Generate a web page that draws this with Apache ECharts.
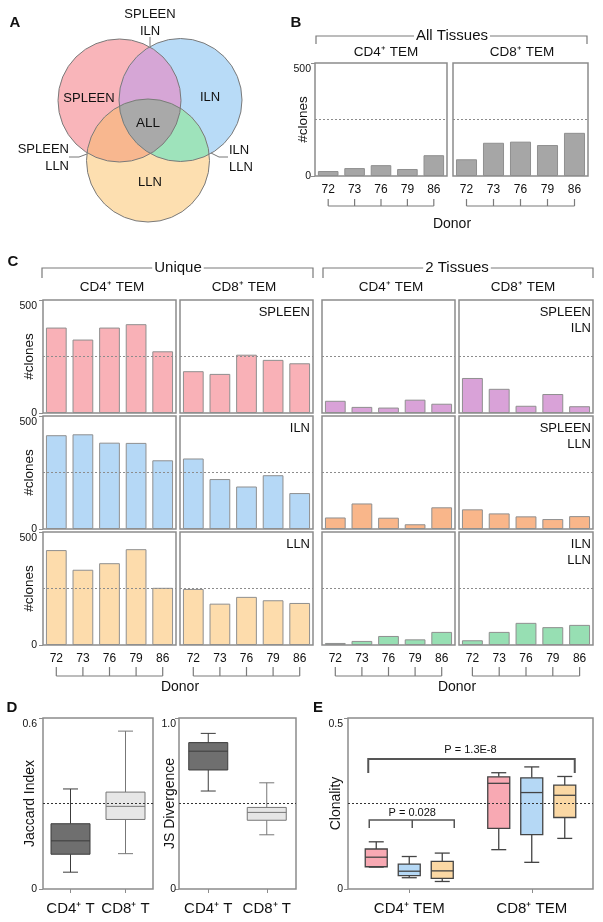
<!DOCTYPE html>
<html><head><meta charset="utf-8">
<script src="https://cdn.jsdelivr.net/npm/echarts@6/dist/echarts.min.js"></script>
<style>html,body{margin:0;padding:0;background:#fff}#c{width:603px;height:922px}</style>
</head><body><div id="c"></div>
<script>
// ---------- data ----------
const donors = ['72', '73', '76', '79', '86'];
// Panel B: all tissues
const allCD4 = [22, 35, 48, 31, 92];
const allCD8 = [74, 147, 152, 137, 191];
// Panel C: unique
const spleenCD4 = [378, 325, 378, 393, 273];
const spleenCD8 = [185, 173, 258, 235, 220];
const ilnCD4 = [415, 419, 382, 381, 304];
const ilnCD8 = [312, 221, 188, 238, 159];
const llnCD4 = [420, 333, 362, 424, 253];
const llnCD8 = [248, 183, 213, 198, 186];
// Panel C: two tissues
const spIlnCD4 = [54, 27, 24, 59, 41];
const spIlnCD8 = [155, 107, 32, 84, 30];
const spLlnCD4 = [51, 113, 50, 21, 96];
const spLlnCD8 = [87, 69, 56, 44, 57];
const ilnLlnCD4 = [9, 18, 40, 25, 58];
const ilnLlnCD8 = [21, 58, 98, 79, 89];
// Panel D: [min, q1, median, q3, max]
const dCats = ['CD4\u207A T', 'CD8\u207A T'];
const jaccardCD4 = [0.059, 0.122, 0.169, 0.229, 0.351];
const jaccardCD8 = [0.124, 0.244, 0.290, 0.340, 0.554];
const jsCD4 = [0.573, 0.696, 0.806, 0.856, 0.910];
const jsCD8 = [0.317, 0.402, 0.448, 0.477, 0.621];
// Panel E: clonality [min, q1, median, q3, max]
const eCats = ['CD4\u207A TEM', 'CD8\u207A TEM'];
const clonSpleen = [[0.064, 0.065, 0.093, 0.117, 0.138], [0.115, 0.177, 0.309, 0.328, 0.340]];
const clonIln = [[0.033, 0.039, 0.052, 0.073, 0.095], [0.078, 0.159, 0.282, 0.325, 0.357]];
const clonLln = [[0.022, 0.031, 0.053, 0.081, 0.105], [0.148, 0.209, 0.274, 0.304, 0.329]];

// ---------- styles ----------
const FONT = '"Liberation Sans", Arial, Helvetica, sans-serif';
const INK = '#111';
const FRAME = '#8c8c8c';
const C_GRAY = '#a6a6a6', C_PINK = '#f9b1b7', C_BLUE = '#b5d8f6', C_LORANGE = '#fddcac',
      C_PURPLE = '#d9a2d8', C_SALMON = '#f9b68a', C_GREEN = '#97dfb3';

const chart = echarts.init(document.getElementById('c'), null, { renderer: 'canvas' });
const grids = [], xAxes = [], yAxes = [], series = [];

function addGrid(l, t, w, h) {
  grids.push({ left: l, top: t, width: w, height: h, show: true, borderColor: FRAME, borderWidth: 1.5,
    backgroundColor: 'transparent', containLabel: false, outerBoundsMode: 'none' });
  return grids.length - 1;
}
function yAxisDef(gi, max, o) {
  return {
    type: 'value', gridIndex: gi, min: 0, max: max, interval: max,
    splitLine: { show: false }, axisLine: { show: false },
    axisTick: { show: !!o.labels, length: 4, lineStyle: { color: FRAME } },
    axisLabel: { show: !!o.labels, fontSize: 10.5, color: INK, margin: o.margin, fontFamily: FONT,
      formatter: v => v === 0 ? '0' : '{t|' + (o.fmt ? o.fmt(v) : v) + '}',
      rich: { t: { fontSize: 10.5, fontFamily: FONT, color: INK, padding: [12, 0, 0, 0] } } },
    name: o.name || '', nameLocation: 'middle', nameRotate: 90, nameGap: o.nameGap || 7,
    nameMoveOverlap: false,
    nameTextStyle: { fontSize: o.nameSize || 13.5, color: INK, fontFamily: FONT }
  };
}
function barPanel(rect, values, color, o) {
  const gi = addGrid(rect[0], rect[1], rect[2], rect[3]);
  xAxes.push({ type: 'category', gridIndex: gi, data: donors, axisLine: { show: false }, axisTick: { show: false },
    axisLabel: { show: !!o.xLabels, interval: 0, fontSize: 12, color: INK, margin: 8, fontFamily: FONT } });
  yAxes.push(yAxisDef(gi, 500, o));
  series.push({ type: 'bar', xAxisIndex: gi, yAxisIndex: gi, data: values, barWidth: '78%', silent: true,
    itemStyle: { color: color, borderColor: '#8f8f8f', borderWidth: 1 },
    markLine: { silent: true, symbol: 'none', label: { show: false }, animation: false,
      lineStyle: { type: [2, 2], color: '#8c8c8c', width: 1 }, data: [{ yAxis: 250 }] } });
  return gi;
}

// Panel B
const gB1 = barPanel([315, 63, 132, 113], allCD4, C_GRAY, { xLabels: true, labels: true, margin: 4, name: '#clones', nameGap: 5 });
const gB2 = barPanel([453, 63, 135, 113], allCD8, C_GRAY, { xLabels: true });

// Panel C
const CL = [43, 180, 322, 459], CW = [133, 133, 133, 134], RT = [300, 416, 532], RH = 113;
const cData = [
  [spleenCD4, spleenCD8, spIlnCD4, spIlnCD8],
  [ilnCD4, ilnCD8, spLlnCD4, spLlnCD8],
  [llnCD4, llnCD8, ilnLlnCD4, ilnLlnCD8]
];
const rowColors = [[C_PINK, C_PINK, C_PURPLE, C_PURPLE], [C_BLUE, C_BLUE, C_SALMON, C_SALMON], [C_LORANGE, C_LORANGE, C_GREEN, C_GREEN]];
const cIdx = [];
for (let r = 0; r < 3; r++) {
  cIdx.push([]);
  for (let c = 0; c < 4; c++) {
    cIdx[r].push(barPanel([CL[c], RT[r], CW[c], RH], cData[r][c], rowColors[r][c],
      { xLabels: r === 2, labels: c === 0, margin: 6, name: c === 0 ? '#clones' : '', nameGap: 7 }));
  }
}

// Box renderer (custom series)
function boxRenderer(offset, boxW, capW, fills, strokes, lw) {
  return function (params, api) {
    const c = api.value(0);
    const x = api.coord([c, 0])[0] + offset;
    const py = k => api.coord([c, api.value(k)])[1];
    const yMin = py(1), yQ1 = py(2), yMed = py(3), yQ3 = py(4), yMax = py(5);
    const stroke = strokes[params.dataIndex % strokes.length];
    const fill = fills[params.dataIndex % fills.length];
    const st = { stroke: stroke, lineWidth: lw, fill: null };
    return { type: 'group', children: [
      { type: 'line', shape: { x1: x, y1: yMax, x2: x, y2: yQ3 }, style: st },
      { type: 'line', shape: { x1: x, y1: yQ1, x2: x, y2: yMin }, style: st },
      { type: 'line', shape: { x1: x - capW / 2, y1: yMax, x2: x + capW / 2, y2: yMax }, style: st },
      { type: 'line', shape: { x1: x - capW / 2, y1: yMin, x2: x + capW / 2, y2: yMin }, style: st },
      { type: 'rect', shape: { x: x - boxW / 2, y: yQ3, width: boxW, height: yQ1 - yQ3 }, style: { fill: fill, stroke: stroke, lineWidth: lw } },
      { type: 'line', shape: { x1: x - boxW / 2, y1: yMed, x2: x + boxW / 2, y2: yMed }, style: st }
    ] };
  };
}
function boxPanel(rect, cats, max, rows, o) {
  const gi = addGrid(rect[0], rect[1], rect[2], rect[3]);
  xAxes.push({ type: 'category', gridIndex: gi, data: cats, axisLine: { show: false },
    axisTick: { show: true, alignWithLabel: true, length: 4, lineStyle: { color: FRAME } },
    axisLabel: { interval: 0, fontSize: 15, color: INK, margin: o.xMargin, fontFamily: FONT } });
  yAxes.push(yAxisDef(gi, max, { labels: true, margin: o.margin, name: o.name, nameGap: o.nameGap, nameSize: 14, fmt: v => v.toFixed(1) }));
  o.sets.forEach((s, k) => {
    series.push({ type: 'custom', xAxisIndex: gi, yAxisIndex: gi, silent: true,
      renderItem: boxRenderer(s.offset, o.boxW, o.capW, s.fills, s.strokes, o.lw),
      encode: { x: 0, y: [1, 2, 3, 4, 5] },
      data: s.data.map((d, i) => [i].concat(d)),
      markLine: k === 0 ? { silent: true, symbol: 'none', label: { show: false }, animation: false,
        lineStyle: { type: [2, 2], color: '#333', width: 1 }, data: [{ yAxis: o.ref }] } : undefined });
  });
  return gi;
}
const gD1 = boxPanel([43, 718, 110, 171], dCats, 0.6, null, { xMargin: 12, margin: 6, name: 'Jaccard Index', nameGap: 6,
  boxW: 39, capW: 15, lw: 1, ref: 0.3,
  sets: [{ offset: 0, data: [jaccardCD4, jaccardCD8], fills: ['#6f6f6f', '#e6e6e6'], strokes: ['#3c3c3c', '#777'] }] });
const gD2 = boxPanel([179, 718, 117, 171], dCats, 1.0, null, { xMargin: 12, margin: 3, name: 'JS Divergence', nameGap: 2,
  boxW: 39, capW: 15, lw: 1, ref: 0.5,
  sets: [{ offset: 0, data: [jsCD4, jsCD8], fills: ['#6f6f6f', '#e6e6e6'], strokes: ['#3c3c3c', '#777'] }] });
const gE = boxPanel([348, 718, 245, 171], eCats, 0.5, null, { xMargin: 12, margin: 5, name: 'Clonality', nameGap: 5,
  boxW: 22, capW: 15, lw: 1.3, ref: 0.25,
  sets: [
    { offset: -33, data: clonSpleen, fills: ['#f8a9b3'], strokes: ['#444'] },
    { offset: 0, data: clonIln, fills: ['#b5d8f5'], strokes: ['#444'] },
    { offset: 33, data: clonLln, fills: ['#fbd8a4'], strokes: ['#444'] }
  ] });

chart.setOption({
  animation: false,
  backgroundColor: '#fff',
  textStyle: { fontFamily: FONT },
  grid: grids, xAxis: xAxes, yAxis: yAxes, series: series
});

// ---------- annotations ----------
function T(x, y, text, size, al, extra) {
  al = al || 'center';
  return { type: 'text', x: x, y: y, z: 100, silent: true,
    style: Object.assign({ text: text, fill: INK, fontSize: size, fontFamily: FONT,
      textAlign: al, align: al, textVerticalAlign: 'middle', verticalAlign: 'middle' }, extra || {}) };
}
function PL(points, stroke, lw) {
  return { type: 'polyline', z: 90, silent: true, shape: { points: points }, style: { stroke: stroke || '#777', lineWidth: lw || 1.2, fill: null } };
}
const G = [];
function header(x1, x2, y, drop, label, cx) {
  G.push(PL([[x1, y + drop], [x1, y], [x2, y], [x2, y + drop]], '#7a7a7a', 1.2));
  G.push(T(cx, y, label, 15, 'center', { backgroundColor: '#fff', padding: [0, 2] }));
}
function donorBracket(axisIdx, yLine, yTick) {
  const xs = donors.map(d => chart.convertToPixel({ xAxisIndex: axisIdx }, d));
  G.push(PL([[xs[0], yLine], [xs[xs.length - 1], yLine]], '#7a7a7a', 1.2));
  xs.forEach(x => G.push(PL([[x, yLine], [x, yTick]], '#7a7a7a', 1.2)));
}
// Panel letters
[['A', 15, 23], ['B', 296, 23], ['C', 13, 262], ['D', 12, 708], ['E', 318, 708]].forEach(l =>
  G.push(T(l[1], l[2], l[0], 15, 'center', { fontWeight: 'bold' })));
// Panel B headers
header(316, 587, 36, 8, 'All Tissues', 452);
G.push(T(386, 52, 'CD4\u207A TEM', 13.5));
G.push(T(522, 52, 'CD8\u207A TEM', 13.5));
donorBracket(gB1, 206, 199);
donorBracket(gB2, 206, 199);
G.push(T(452, 224, 'Donor', 14));
// Panel C headers
header(42, 313, 268, 10, 'Unique', 178);
header(323, 593, 268, 10, '2 Tissues', 457);
G.push(T(112, 287, 'CD4\u207A TEM', 13.5));
G.push(T(244, 287, 'CD8\u207A TEM', 13.5));
G.push(T(391, 287, 'CD4\u207A TEM', 13.5));
G.push(T(523, 287, 'CD8\u207A TEM', 13.5));
for (let c = 0; c < 4; c++) donorBracket(cIdx[2][c], 676, 667);
G.push(T(180, 687, 'Donor', 14));
G.push(T(457, 687, 'Donor', 14));
// tissue labels
const tissueL = [['SPLEEN', 'SPLEEN\nILN'], ['ILN', 'SPLEEN\nLLN'], ['LLN', 'ILN\nLLN']];
for (let r = 0; r < 3; r++) {
  G.push({ type: 'text', x: CL[1] + CW[1] - 3, y: RT[r] + 4, z: 100, silent: true,
    style: { text: tissueL[r][0], fill: INK, fontSize: 13, fontFamily: FONT, textAlign: 'right', align: 'right', textVerticalAlign: 'top', verticalAlign: 'top', lineHeight: 16 } });
  G.push({ type: 'text', x: CL[3] + CW[3] - 2, y: RT[r] + 4, z: 100, silent: true,
    style: { text: tissueL[r][1], fill: INK, fontSize: 13, fontFamily: FONT, textAlign: 'right', align: 'right', textVerticalAlign: 'top', verticalAlign: 'top', lineHeight: 16 } });
}
// Panel E p-value brackets
const e0 = chart.convertToPixel({ xAxisIndex: gE }, eCats[0]);
const e1 = chart.convertToPixel({ xAxisIndex: gE }, eCats[1]);
G.push(PL([[e0 - 41, 773], [e0 - 41, 759], [e1 + 43, 759], [e1 + 43, 773]], '#555', 2));
G.push(T((e0 + e1) / 2, 750, 'P = 1.3E-8', 11));
G.push(PL([[e0 - 40, 828], [e0 - 40, 820], [e0 + 45, 820], [e0 + 45, 828]], '#555', 1.5));
G.push(PL([[e0 + 3, 820], [e0 + 3, 828]], '#555', 1.5));
G.push(T(e0 + 3, 813, 'P = 0.028', 11));
// Venn labels
G.push(T(150, 14, 'SPLEEN', 13));
G.push(T(150, 31, 'ILN', 13));
G.push(PL([[150, 37], [150, 46]], '#777', 1));
G.push(T(89, 98, 'SPLEEN', 13));
G.push(T(210, 97, 'ILN', 13));
G.push(T(148, 123, 'ALL', 13.5));
G.push(T(150, 182, 'LLN', 13));
G.push(T(69, 149, 'SPLEEN', 13, 'right'));
G.push(T(69, 166, 'LLN', 13, 'right'));
G.push(PL([[69, 157], [79, 157], [87, 154]], '#777', 1));
G.push(T(229, 150, 'ILN', 13, 'left'));
G.push(T(229, 167, 'LLN', 13, 'left'));
G.push(PL([[211, 153], [219, 157], [228, 157]], '#777', 1));

chart.setOption({ graphic: G });

// ---------- Venn diagram (Panel A) ----------
const VR = 61.5;
const vP = [119.5, 100.5], vB = [180.5, 100], vO = [148, 160.5];
const EG = echarts.graphic;
const zr = chart.getZr();
function vc(c, fill) { return new EG.Circle({ silent: true, shape: { cx: c[0], cy: c[1], r: VR }, style: { fill: fill } }); }
zr.add(vc(vP, '#f9b5ba'));
zr.add(vc(vB, '#b8dbf7'));
zr.add(vc(vO, '#fddfb0'));
function inter2(a, b, fill) { const e = vc(a, fill); e.setClipPath(vc(b, '#000')); zr.add(e); }
inter2(vP, vB, '#d6a6d6');
inter2(vP, vO, '#f8b78f');
inter2(vB, vO, '#9ee3bb');
const gAll = new EG.Group();
gAll.setClipPath(vc(vP, '#000'));
const inAll = vc(vB, '#a9a9a9');
inAll.setClipPath(vc(vO, '#000'));
gAll.add(inAll);
zr.add(gAll);
[vP, vB, vO].forEach(c => zr.add(new EG.Circle({ silent: true, shape: { cx: c[0], cy: c[1], r: VR }, style: { fill: 'none', stroke: '#7a7a7a', lineWidth: 1 } })));
</script>
</body></html>
